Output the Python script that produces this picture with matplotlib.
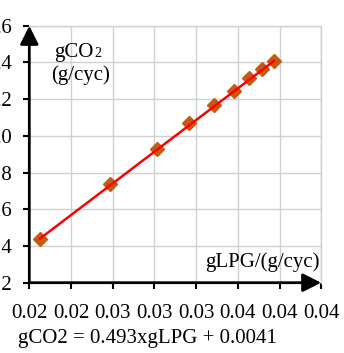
import numpy as np
import matplotlib
matplotlib.use("Agg")
import matplotlib.pyplot as plt

# данные
g_lpg = [0.02090, 0.02677, 0.03069, 0.03343, 0.03552, 0.03718, 0.03847, 0.03951, 0.04054]
g_co2 = [0.01438, 0.01736, 0.01927, 0.02069, 0.02168, 0.02246, 0.02314, 0.02365, 0.02410]
slope = 0.493
intercept = 0.0041
x_ticks = [0.020, 0.0235, 0.027, 0.0305, 0.034, 0.0375, 0.041, 0.0445]
y_ticks = [0.012, 0.014, 0.016, 0.018, 0.020, 0.022, 0.024, 0.026]

plt.rcParams["font.family"] = ["Liberation Serif", "DejaVu Serif"]

W, H = 344, 353
fig = plt.figure(figsize=(W / 100, H / 100), dpi=100)
ax = fig.add_axes([29.3 / W, 1 - 282.7 / H, (321.2 - 29.3) / W, (282.7 - 25.8) / H])

# точки и линия тренда
ax.plot(g_lpg, g_co2, linestyle="none", marker="D", ms=7, color="#c55a11", zorder=3)
xs = np.array([min(g_lpg), max(g_lpg)])
ax.plot(xs, slope * xs + intercept, color="#ff0000", lw=1.8, zorder=4)

ax.set_xlim(x_ticks[0], x_ticks[-1])
ax.set_ylim(y_ticks[0], y_ticks[-1])
ax.set_xticks(x_ticks)
ax.set_yticks(y_ticks)
ax.set_xticklabels([f"{v:.2f}" for v in x_ticks])
ax.set_yticklabels([f"{v:.3f}" for v in y_ticks])
ax.tick_params(axis="both", direction="out", length=4.5, width=1.5, labelsize=15, color="black")
ax.tick_params(axis="y", pad=8)
ax.tick_params(axis="x", pad=11)

ax.grid(True, color="#d0d0d0", lw=1.0)
ax.set_axisbelow(True)
for s in ["top", "right"]:
    ax.spines[s].set_color("#d0d0d0")
    ax.spines[s].set_linewidth(1.0)
for s in ["left", "bottom"]:
    ax.spines[s].set_visible(False)

# оси со стрелками
arrow = dict(arrowstyle="-|>,head_length=0.7,head_width=0.35", lw=2.0, color="black",
             mutation_scale=16, shrinkA=0, shrinkB=0)
ax.annotate("", xy=(0, 1), xytext=(0, 0), xycoords="axes fraction", arrowprops=arrow, zorder=5)
ax.annotate("", xy=(1, 0), xytext=(0, 0), xycoords="axes fraction", arrowprops=arrow, zorder=5)

# подписи
t = fig.text(54 / W, 1 - 57 / H, "gCO", fontsize=15, ha="left", va="baseline")
fig.canvas.draw()
bb = t.get_window_extent()
fig.text(bb.x1 / W + 0.002, 1 - 57 / H, "2", fontsize=10, ha="left", va="baseline")
fig.text(81 / W, 1 - 75 / H, "(g/cyc)", fontsize=15, ha="center", va="center")
fig.text(320 / W, 1 - 266.7 / H, "gLPG/(g/cyc)", fontsize=15, ha="right", va="baseline")
fig.text(18 / W, 1 - 343.3 / H, "gCO2 = 0.493xgLPG + 0.0041", fontsize=15, ha="left", va="baseline")

fig.savefig("out.png", dpi=100)
